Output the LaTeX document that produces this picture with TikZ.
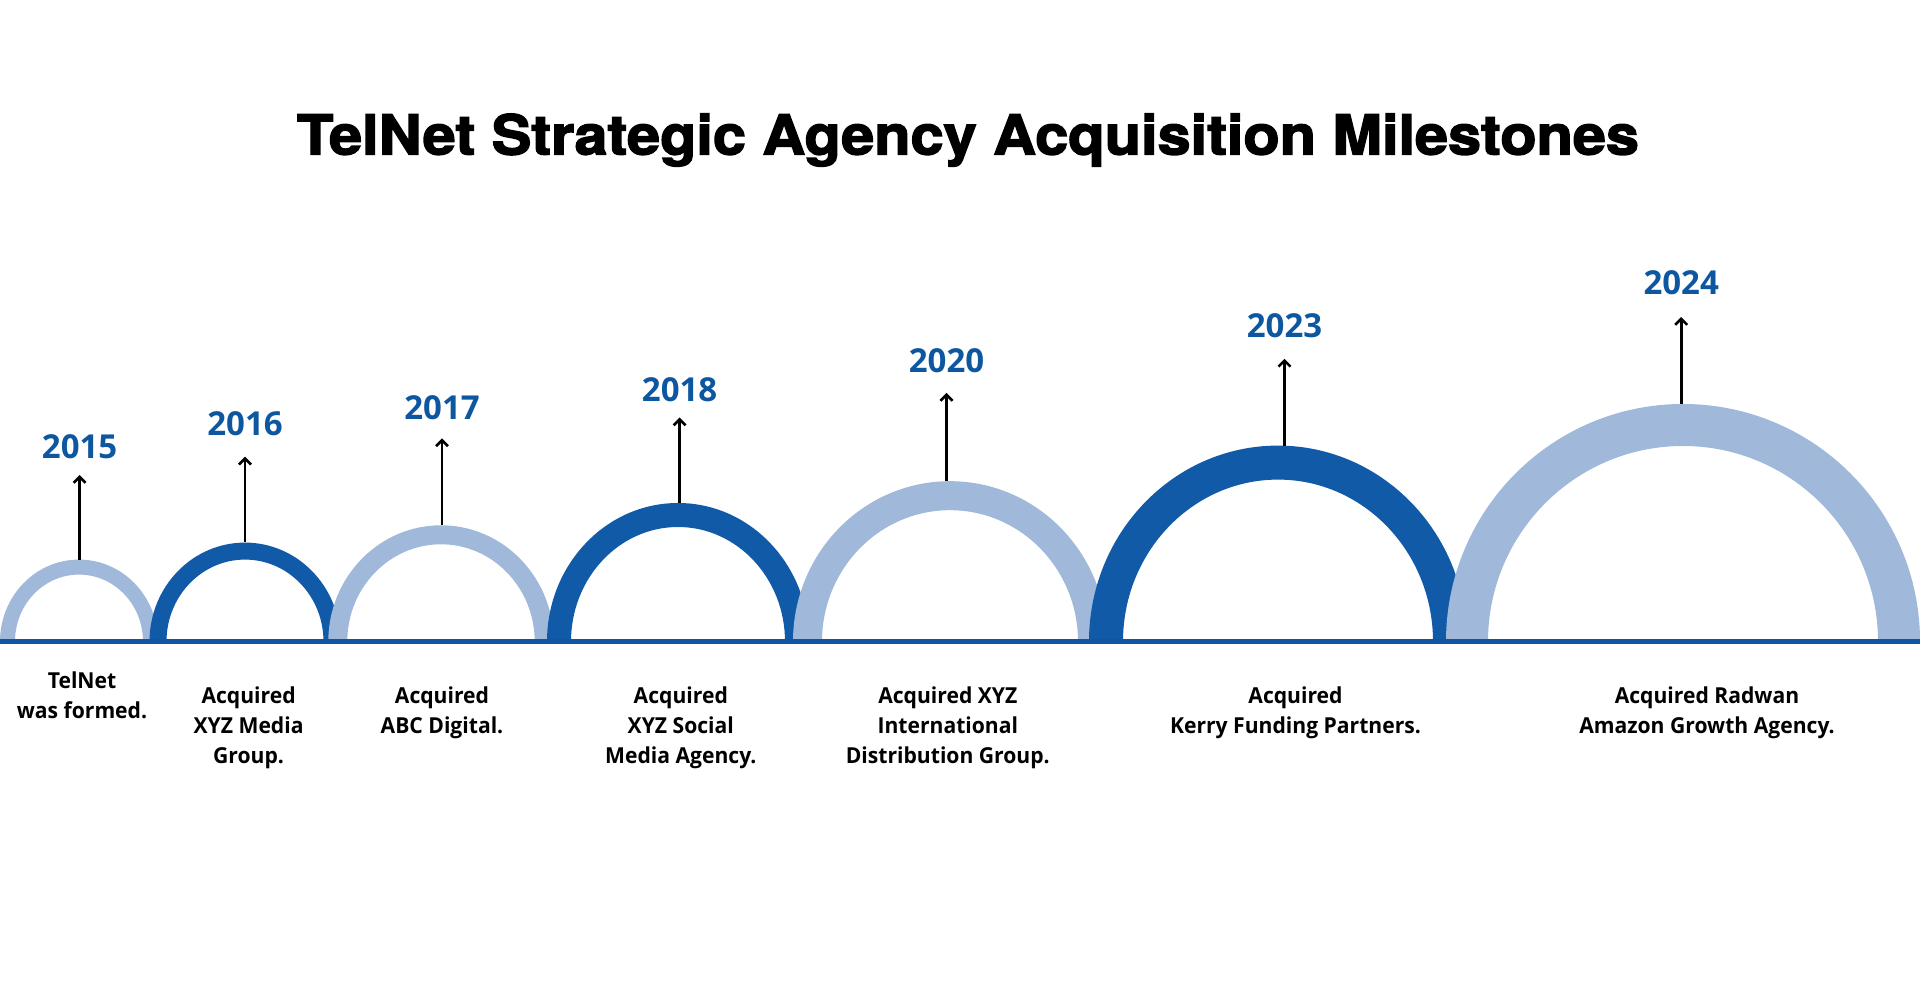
\documentclass[tikz,border=0pt]{standalone}
\usepackage{fontspec}
\usetikzlibrary{arrows.meta}
\newfontfamily\titlefont{TeX Gyre Heros}[FakeStretch=1.08,BoldFeatures={FakeBold=2.6}]
\newfontfamily\yearfont{Open Sans}
\newfontfamily\labelfont{Open Sans}[FakeStretch=0.96]
\definecolor{darkarc}{RGB}{16,90,168}
\definecolor{lightarc}{RGB}{160,185,218}
\definecolor{baseblue}{RGB}{14,86,160}
\definecolor{yearblue}{RGB}{13,87,161}
\tikzset{
  darkfill/.style={fill=darkarc},
  lightfill/.style={fill=lightarc},
  yearlabel/.style={inner sep=0pt, text=yearblue, font=\yearfont\bfseries\fontsize{33}{36}\selectfont},
  desclabel/.style={inner sep=0pt, anchor=north, align=center, font=\labelfont\bfseries\fontsize{22}{30}\selectfont},
  pointer/.style={line width=2.9pt, -{Straight Barb[length=6pt,width=12pt,line width=2.6pt]}},
}
% #1 cx, #2 outer rx, #3 outer ry, #4 thickness, #5 style
\newcommand{\halfring}[5]{%
  \path[#5] (#1-#2,342.4) arc[start angle=180,end angle=0,x radius=#2,y radius=#3]
    -- (#1+#2-#4,342.4) arc[start angle=0,end angle=180,x radius=#2-#4,y radius=#3-#4] -- cycle;}
\begin{document}
\begin{tikzpicture}[x=1pt,y=1pt]
\useasboundingbox (0,0) rectangle (1920,984);
\fill[white] (0,0) rectangle (1920,984);

\node[inner sep=0pt, font=\titlefont\bfseries\fontsize{55}{60}\selectfont] (title) at (968,844) {TelNet Strategic Agency Acquisition Milestones};

% arcs (later ones on top)
\halfring{79}{79}{82}{15}{lightfill}
\halfring{245}{95.5}{99}{17}{darkfill}
\halfring{441}{112.7}{116.3}{19}{lightfill}
\halfring{678}{131}{138.6}{24}{darkfill}
\halfring{950}{157}{160.4}{29}{lightfill}
\halfring{1278}{189}{196}{34}{darkfill}
\halfring{1683}{237}{237.6}{42}{lightfill}

% baseline
\coordinate (bl) at (0,342.4);
\coordinate (br) at (1920,342.4);
\draw[baseblue, line width=4.5pt] (bl) -- (br);

% arc tops and arrow tips
\coordinate (t1) at (79.6,424.4);  \coordinate (a1) at (79.6,509);
\coordinate (t2) at (245,441.5);   \coordinate (a2) at (245,527.3);
\coordinate (t3) at (442,458.7);   \coordinate (a3) at (442,545.6);
\coordinate (t4) at (679.6,481);   \coordinate (a4) at (679.6,566.5);
\coordinate (t5) at (946.5,502.8); \coordinate (a5) at (946.5,591);
\coordinate (t6) at (1284.5,538.4);\coordinate (a6) at (1284.5,625.2);
\coordinate (t7) at (1681.2,580);  \coordinate (a7) at (1681.2,667);
\foreach \i in {1,...,7} { \draw[pointer] (t\i) -- (a\i); }

% years
\node[yearlabel] (y1) at (79.6,537) {2015};
\node[yearlabel] (y2) at (245,560.3) {2016};
\node[yearlabel] (y3) at (442,576.2) {2017};
\node[yearlabel] (y4) at (679.6,594.6) {2018};
\node[yearlabel] (y5) at (946.5,622.8) {2020};
\node[yearlabel] (y6) at (1284.5,658.3) {2023};
\node[yearlabel] (y7) at (1681.2,701.1) {2024};

% descriptions
\node[desclabel] (d1) at (82,312) {TelNet\\was formed.};
\node[desclabel] (d2) at (248.6,297) {Acquired\\XYZ Media\\Group.};
\node[desclabel] (d3) at (442,297) {Acquired\\ABC Digital.};
\node[desclabel] (d4) at (680.8,297) {Acquired\\XYZ Social\\Media Agency.};
\node[desclabel] (d5) at (947.8,297) {Acquired XYZ\\International\\Distribution Group.};
\node[desclabel] (d6) at (1295.5,297) {Acquired\\Kerry Funding Partners.};
\node[desclabel] (d7) at (1707,297) {Acquired Radwan\\Amazon Growth Agency.};
\end{tikzpicture}
\end{document}
